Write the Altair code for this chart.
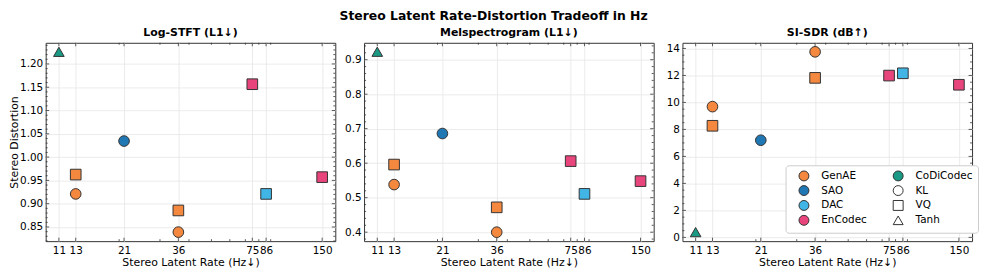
import altair as alt
import numpy as np
import pandas as pd

# ---------------- data ----------------
rates = [13, 13, 36, 36, 21, 86, 75, 150, 11]
models = ["GenAE", "GenAE", "GenAE", "GenAE", "SAO", "DAC", "EnCodec", "EnCodec", "CoDiCodec"]
types = ["KL", "VQ", "KL", "VQ", "KL", "VQ", "VQ", "VQ", "Tanh"]
log_stft = [0.921, 0.9625, 0.839, 0.8855, 1.0345, 0.921, 1.1565, 0.957, 1.226]
melspec = [0.538, 0.596, 0.400, 0.472, 0.686, 0.511, 0.606, 0.548, 0.923]
si_sdr = [9.69, 8.27, 13.75, 11.82, 7.20, 12.16, 11.99, 11.31, 0.39]

x_ticks = [11, 13, 21, 36, 75, 86, 150]
x_minor = [20, 30, 40, 50, 60, 70, 80, 90]

legend_order = ["GenAE", "SAO", "DAC", "EnCodec", "CoDiCodec", "KL", "VQ", "Tanh"]
legend_fill = ["#F4883F", "#1F77B4", "#40B5E6", "#E8457C", "#1A9A84", "#FFFFFF", "#FFFFFF", "#FFFFFF"]
legend_shape = ["circle", "circle", "circle", "circle", "circle", "circle", "square", "triangle-up"]

panels = [
    dict(title="Log-STFT (L1↓)", values=log_stft, domain=[0.8196, 1.2454],
         ticks=[0.85, 0.90, 0.95, 1.00, 1.05, 1.10, 1.15, 1.20], step=0.01, fmt=".2f",
         ytitle="Stereo Distortion"),
    dict(title="Melspectrogram (L1↓)", values=melspec, domain=[0.374, 0.949],
         ticks=[0.4, 0.5, 0.6, 0.7, 0.8, 0.9], step=0.02, fmt=".1f", ytitle=None),
    dict(title="SI-SDR (dB↑)", values=si_sdr, domain=[-0.28, 14.42],
         ticks=[0, 2, 4, 6, 8, 10, 12, 14], step=0.5, fmt="d", ytitle=None),
]

W, H = 292, 200
X_DOMAIN = [9.65, 170.9]
FONT = "DejaVu Sans"
TICK_COLOR = "#333333"


def minor_ticks(domain, step, majors):
    lo, hi = domain
    vals = np.round(np.arange(np.ceil(lo / step) * step, hi, step), 4)
    return [float(v) for v in vals if not any(abs(v - m) < 1e-6 for m in majors)]


def y_tick_layer(values, side, length, ys, yaxis):
    df = pd.DataFrame({"v": values})
    if side == "left":
        xe, x2e = alt.value(0), alt.value(length)
    else:
        xe, x2e = alt.value(W), alt.value(W - length)
    return alt.Chart(df).mark_rule(color=TICK_COLOR, strokeWidth=0.8).encode(
        y=alt.Y("v:Q", scale=ys, axis=yaxis), x=xe, x2=x2e)


def x_tick_layer(values, side, length, xs, xaxis):
    df = pd.DataFrame({"v": values})
    if side == "bottom":
        ye, y2e = alt.value(H), alt.value(H - length)
    else:
        ye, y2e = alt.value(0), alt.value(length)
    return alt.Chart(df).mark_rule(color=TICK_COLOR, strokeWidth=0.8).encode(
        x=alt.X("v:Q", scale=xs, axis=xaxis), y=ye, y2=y2e)


def make_panel(p, show_legend):
    df = pd.DataFrame({"rate": rates, "value": p["values"], "model": models, "type": types})
    xs = alt.Scale(type="log", domain=X_DOMAIN, nice=False, zero=False)
    ys = alt.Scale(domain=p["domain"], nice=False, zero=False)

    xaxis = alt.Axis(values=x_ticks, format="d", title="Stereo Latent Rate (Hz↓)",
                     labelOverlap=False, labelFlush=False, labelBound=False,
                     grid=True, ticks=False, domain=False, labelPadding=4, titlePadding=1)
    yaxis = alt.Axis(values=p["ticks"], format=p["fmt"], title=p["ytitle"], grid=True,
                     ticks=False, domain=False, labelPadding=3, labelOverlap=False,
                     labelFlush=False, titlePadding=0)

    if show_legend:
        leg = alt.Legend(title=None, orient="none", legendX=104, legendY=123.5, columns=2,
                         symbolSize=100, symbolStrokeWidth=1,
                         symbolOpacity=1, symbolOffset=8, labelOffset=12, columnPadding=18,
                         rowPadding=0, padding=5, labelFont=FONT, labelFontSize=10.5,
                         labelColor="#000000", strokeColor="#cccccc", fillColor="#ffffff",
                         cornerRadius=3)
    else:
        leg = None

    points = alt.Chart(df).mark_point(filled=True, size=115, opacity=1, stroke="#333333",
                                      strokeWidth=1).encode(
        x=alt.X("rate:Q", scale=xs, axis=xaxis),
        y=alt.Y("value:Q", scale=ys, axis=yaxis),
        fill=alt.Fill("model:N", scale=alt.Scale(domain=legend_order, range=legend_fill), legend=leg),
        shape=alt.Shape("type:N", scale=alt.Scale(domain=legend_order, range=legend_shape), legend=leg),
    )

    ymin = minor_ticks(p["domain"], p["step"], p["ticks"])
    layers = [
        points,
        x_tick_layer(x_ticks, "bottom", 3.5, xs, xaxis), x_tick_layer(x_ticks, "top", 3.5, xs, xaxis),
        x_tick_layer(x_minor, "bottom", 2, xs, xaxis), x_tick_layer(x_minor, "top", 2, xs, xaxis),
        y_tick_layer(p["ticks"], "left", 3.5, ys, yaxis), y_tick_layer(p["ticks"], "right", 3.5, ys, yaxis),
        y_tick_layer(ymin, "left", 2, ys, yaxis), y_tick_layer(ymin, "right", 2, ys, yaxis),
    ]
    return alt.layer(*layers).properties(
        width=W, height=H,
        title=alt.TitleParams(p["title"], font=FONT, fontSize=11, fontWeight="bold",
                              color="#000000", offset=4),
    )


charts = [make_panel(p, i == 2) for i, p in enumerate(panels)]

chart = alt.hconcat(*charts, spacing=29, bounds="flush").resolve_scale(
    fill="independent", shape="independent"
).properties(
    padding={"left": 0, "top": 0, "right": 0, "bottom": 0},
    title=alt.TitleParams("Stereo Latent Rate-Distortion Tradeoff in Hz", font=FONT,
                          fontSize=12.5, fontWeight="bold", color="#000000",
                          anchor="middle", frame="bounds", offset=2, dy=-3),
).configure_view(
    stroke="#333333", strokeWidth=1
).configure_axis(
    labelFont=FONT, labelFontSize=10.5, labelColor="#000000",
    titleFont=FONT, titleFontSize=11, titleFontWeight="normal", titleColor="#000000",
    gridColor="#e6e6e6", gridWidth=0.8,
)

chart.save("out.html", embed_options={"renderer": "svg", "actions": False})
